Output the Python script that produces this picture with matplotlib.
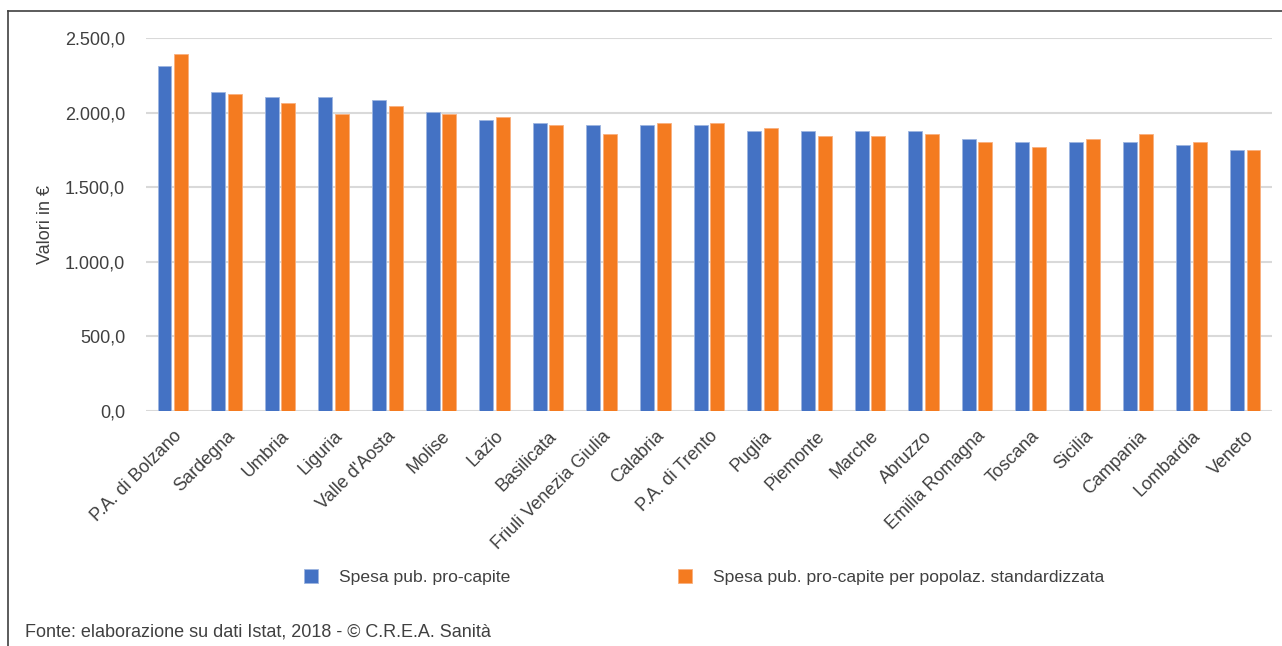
import numpy as np
import matplotlib.pyplot as plt
from matplotlib.lines import Line2D

plt.rcParams['font.family'] = ['Liberation Sans Narrow', 'Liberation Sans', 'DejaVu Sans']

regioni = ["P.A. di Bolzano", "Sardegna", "Umbria", "Liguria", "Valle d'Aosta",
           "Molise", "Lazio", "Basilicata", "Friuli Venezia Giulia", "Calabria",
           "P.A. di Trento", "Puglia", "Piemonte", "Marche", "Abruzzo",
           "Emilia Romagna", "Toscana", "Sicilia", "Campania", "Lombardia", "Veneto"]
spesa_pc = [2313, 2141, 2102, 2102, 2084, 2007, 1950, 1932, 1914, 1914,
            1914, 1877, 1877, 1877, 1877, 1820, 1804, 1804, 1804, 1786, 1747]
spesa_std = [2390, 2122, 2066, 1989, 2045, 1989, 1968, 1914, 1859, 1932,
             1932, 1896, 1841, 1841, 1859, 1804, 1767, 1820, 1859, 1804, 1747]
yticks = [0, 500, 1000, 1500, 2000, 2500]
ytick_labels = ["0,0", "500,0", "1.000,0", "1.500,0", "2.000,0", "2.500,0"]

blue = "#4472C4"
orange = "#F47B20"
txt = "#404040"

fig = plt.figure(figsize=(12.82, 6.46), dpi=100)
ax = fig.add_axes([0.1139, 0.3638, 0.8783, 0.5774])

x = np.arange(len(regioni))
w = 0.26
ax.bar(x - 0.155, spesa_pc, w, color=blue, edgecolor="#9DB5E0", linewidth=0.6, zorder=3,
       label="Spesa pub. pro-capite")
ax.bar(x + 0.155, spesa_std, w, color=orange, edgecolor="#F9B07E", linewidth=0.6, zorder=3,
       label="Spesa pub. pro-capite per popolaz. standardizzata")

ax.set_xlim(-0.5, len(regioni) - 0.5)
ax.set_ylim(0, 2500)
ax.set_yticks(yticks)
ax.set_yticklabels(ytick_labels, fontsize=13, color=txt)
ax.set_xticks(x)
ax.set_xticklabels(regioni, rotation=45, ha="right", rotation_mode="anchor",
                   fontsize=13, color=txt)
ax.tick_params(axis="y", length=0, pad=15)
ax.tick_params(axis="x", length=0, pad=12)
ax.grid(axis="y", color="#D9D9D9", linewidth=1.5, zorder=0)
for s in ax.spines.values():
    s.set_visible(False)
ax.set_ylabel("Valori in €", fontsize=13, color=txt, labelpad=8)

fig.legend(loc="center", bbox_to_anchor=(0.549, 1 - 577 / 646), ncol=2, frameon=False,
           fontsize=12.6, handlelength=0.8, handleheight=0.8, columnspacing=9.6,
           handletextpad=1.2, labelcolor=txt)

fig.text(25 / 1282, 1 - 632 / 646, "Fonte: elaborazione su dati Istat, 2018 - © C.R.E.A. Sanità",
         fontsize=13, color=txt, va="center", ha="left")

# cornice
fig.add_artist(Line2D([8 / 1282, 8 / 1282], [0, 1 - 11 / 646], transform=fig.transFigure,
                      color="#404040", linewidth=1.2))
fig.add_artist(Line2D([8 / 1282, 1], [1 - 11 / 646, 1 - 11 / 646], transform=fig.transFigure,
                      color="#404040", linewidth=1.2))

fig.savefig("out.png", dpi=100)
